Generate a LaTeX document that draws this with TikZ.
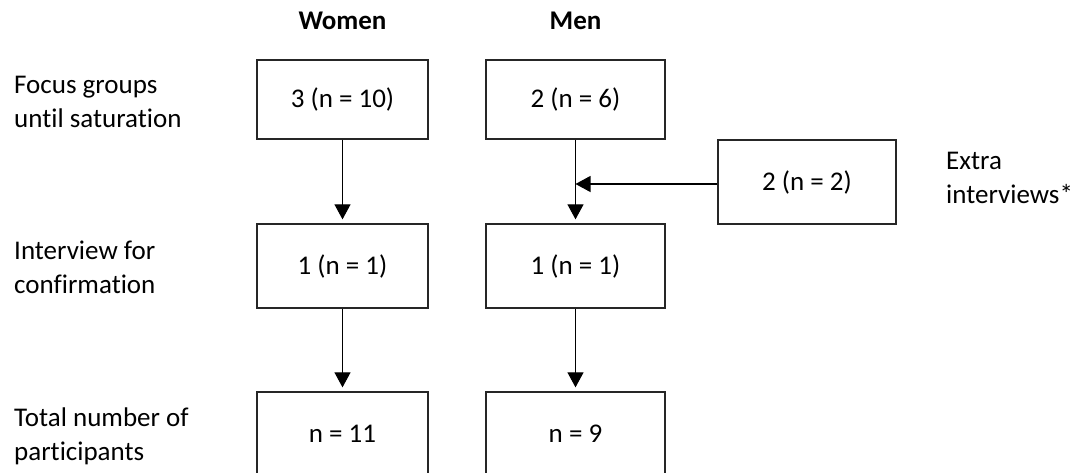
\documentclass[tikz,border=0pt]{standalone}
\usepackage{fontspec}
\setmainfont{Carlito}[Ligatures=NoCommon]
\usetikzlibrary{arrows.meta}
\begin{document}
\begin{tikzpicture}[x=1pt,y=-1pt,
  every node/.style={font=\fontsize{27}{34}\selectfont, inner sep=0pt},
  boxw/.style={draw=black!85, line width=1.3pt, minimum width=171pt, minimum height=84pt},
  boxm/.style={draw=black!85, line width=1.3pt, minimum width=179pt, minimum height=84pt},
  lbl/.style={anchor=base west, align=left},
  flow/.style={line width=1.1pt, -{Triangle[length=15pt,width=16pt]}, shorten >=4pt}]
\useasboundingbox (0,0) rectangle (1077,472);
\node[font=\fontsize{27}{34}\selectfont\bfseries, anchor=base] (tw) at (342.5,29) {Women};
\node[font=\fontsize{27}{34}\selectfont\bfseries, anchor=base] (tm) at (575.5,29) {Men};
\node[lbl] (l1) at (14,127) {Focus groups\\until saturation};
\node[lbl] (l2) at (14,293) {Interview for\\confirmation};
\node[lbl] (l3) at (14,460) {Total number of\\participants};
\node[lbl] (l4) at (946,203) {Extra\\interviews*};
\node[boxw, minimum height=79pt] (w1) at (342.5,99.5) {3 (n = 10)};
\node[boxm, minimum height=79pt] (m1) at (575.5,99.5) {2 (n = 6)};
\node[boxm, minimum width=178pt] (e) at (807,182) {2 (n = 2)};
\node[boxw] (w2) at (342.5,266) {1 (n = 1)};
\node[boxm] (m2) at (575.5,266) {1 (n = 1)};
\node[boxw] (w3) at (342.5,434) {n = 11};
\node[boxm] (m3) at (575.5,434) {n = 9};
\draw[flow] (w1) -- (w2);
\draw[flow] (m1) -- (m2);
\draw[flow] (w2) -- (w3);
\draw[flow] (m2) -- (m3);
\draw[flow, shorten >=0pt] ([yshift=-2pt]e.west) -- ([yshift=-2pt]m1.south |- e.west);
\end{tikzpicture}
\end{document}
